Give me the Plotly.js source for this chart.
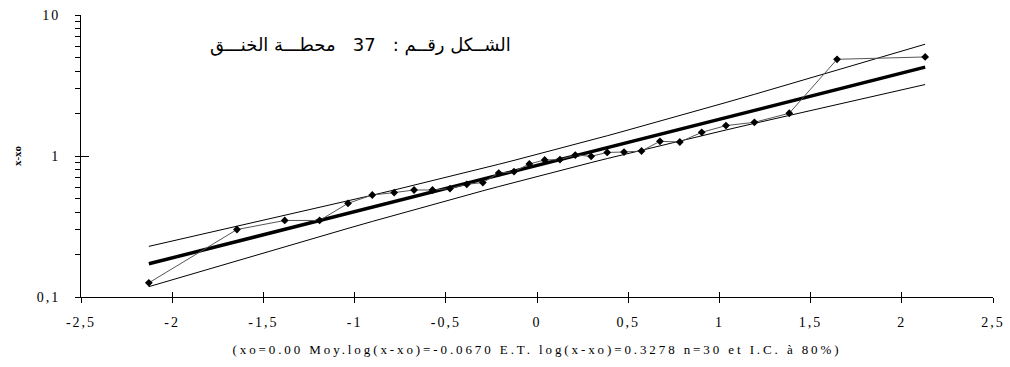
<!DOCTYPE html>
<html>
<head>
<meta charset="utf-8">
<script src="https://cdn.plot.ly/plotly-3.0.1.min.js"></script>
<style>html,body{margin:0;padding:0;background:#fff;}#chart{width:1010px;height:367px;}</style>
</head>
<body>
<div id="chart"></div>
<script>
// Normal quantiles (plotting positions) of the 30 observations
const zValues = [-2.128,-1.645,-1.383,-1.192,-1.036,-0.903,-0.783,-0.674,-0.573,-0.477,-0.385,-0.297,-0.210,-0.126,-0.042,
                  0.042, 0.126, 0.210, 0.297, 0.385, 0.477, 0.573, 0.674, 0.783, 0.903, 1.036, 1.192, 1.383, 1.645, 2.128];
// Observed x-xo values
const observed = [0.126,0.301,0.349,0.349,0.462,0.529,0.550,0.574,0.574,0.587,0.630,0.648,0.757,0.775,0.878,
                  0.937,0.943,1.016,0.995,1.060,1.067,1.085,1.271,1.257,1.472,1.643,1.734,2.010,4.850,5.040];
// Fitted log-normal line
const fitX = [-2.128, 2.128];
const fitY = [0.172, 4.27];
// 80% confidence limits
const upper = [0.2286,0.3163,0.3780,0.4310,0.4803,0.5272,0.5739,0.6204,0.6674,0.7158,0.7660,0.8176,0.8734,0.9309,0.9927,
               1.0598,1.1316,1.2094,1.2967,1.3918,1.5007,1.6233,1.7650,1.9332,2.1390,2.3950,2.7371,3.2279,4.0568,6.2044];
const lower = [0.1184,0.1811,0.2276,0.2684,0.3067,0.3434,0.3800,0.4161,0.4524,0.4895,0.5277,0.5665,0.6072,0.6490,0.6930,
               0.7399,0.7889,0.8411,0.8982,0.9590,1.0261,1.1006,1.1838,1.2796,1.3932,1.5293,1.7039,1.9430,2.3222,3.2131];
const xTickVals = [-2.5,-2,-1.5,-1,-0.5,0,0.5,1,1.5,2,2.5];
const xTickText = ['-2,5','-2','-1,5','-1','-0,5','0','0,5','1','1,5','2','2,5'];
const yTickVals = [0.1,0.2,0.3,0.4,0.5,0.6,0.7,0.8,0.9,1,2,3,4,5,6,7,8,9,10];
const yTickText = ['0,1','','','','','','','','','1','','','','','','','','','10'];
const yMajorVals = [0.1, 1, 10];
const chartTitle = 'الشــكل رقــم :\u00a0\u00a0 37 \u00a0\u00a0محطـــة الخنـــق';
const xTitle = '(xo=0.00 Moy.log(x-xo)=-0.0670 E.T. log(x-xo)=0.3278 n=30 et I.C. à 80%)';
const yTitle = 'x-xo';

const serif = '"Liberation Serif", "Times New Roman", serif';
const spaced = (s, px) => '<span style="letter-spacing:' + px + 'px">' + s + '</span>';

const traces = [
  {x: zValues, y: upper, type: 'scatter', mode: 'lines', line: {color: '#000', width: 1}, hoverinfo: 'skip'},
  {x: zValues, y: lower, type: 'scatter', mode: 'lines', line: {color: '#000', width: 1}, hoverinfo: 'skip'},
  {x: fitX, y: fitY, type: 'scatter', mode: 'lines', line: {color: '#000', width: 3.5}, hoverinfo: 'skip'},
  {x: zValues, y: observed, type: 'scatter', mode: 'lines+markers',
   line: {color: '#555', width: 1},
   marker: {symbol: 'diamond', size: 6, color: '#000'}, hoverinfo: 'skip'},
  // helper trace on overlay axes (inside halves of the major ticks)
  {x: [0], y: [1], xaxis: 'x2', yaxis: 'y2', type: 'scatter', mode: 'markers',
   marker: {size: 1, color: 'rgba(0,0,0,0)'}, hoverinfo: 'skip'}
];

const layout = {
  width: 1010, height: 367,
  margin: {l: 81, r: 17, t: 15, b: 70},
  paper_bgcolor: '#fff', plot_bgcolor: '#fff',
  showlegend: false,
  xaxis: {
    range: [-2.5, 2.5], tickmode: 'array', tickvals: xTickVals, ticktext: xTickText.map(t => spaced(t, 2)),
    showgrid: false, zeroline: false, showline: true, linecolor: '#000', linewidth: 1,
    ticks: 'outside', ticklen: 5, tickcolor: '#000', tickwidth: 1,
    ticklabelstandoff: 7,
    tickfont: {family: serif, size: 14, color: '#000'},
    title: {text: spaced(xTitle, 2.9), font: {family: serif, size: 13, color: '#000'}, standoff: 16},
    automargin: false
  },
  yaxis: {
    type: 'log', range: [-1, 1], tickmode: 'array', tickvals: yTickVals, ticktext: yTickText.map(t => t ? spaced(t, 2) : ''),
    showgrid: false, zeroline: false, showline: true, linecolor: '#000', linewidth: 1,
    ticks: 'outside', ticklen: 5, tickcolor: '#000', tickwidth: 1,
    ticklabelstandoff: 12,
    tickfont: {family: serif, size: 14, color: '#000'},
    title: {text: '<b>' + yTitle + '</b>', font: {family: serif, size: 11, color: '#000'}, standoff: 12},
    automargin: false
  },
  xaxis2: {
    overlaying: 'x', anchor: 'y', range: [-2.5, 2.5], tickmode: 'array', tickvals: xTickVals,
    showticklabels: false, ticks: 'inside', ticklen: 5, tickcolor: '#000', tickwidth: 1,
    showgrid: false, zeroline: false, showline: false, side: 'bottom'
  },
  yaxis2: {
    overlaying: 'y', anchor: 'x', type: 'log', range: [-1, 1], tickmode: 'array', tickvals: yMajorVals,
    showticklabels: false, ticks: 'inside', ticklen: 8, tickcolor: '#000', tickwidth: 1,
    showgrid: false, zeroline: false, showline: false, side: 'left'
  },
  annotations: [{
    text: chartTitle, xref: 'paper', yref: 'paper', x: 0.306, y: 0.893,
    xanchor: 'center', yanchor: 'middle', showarrow: false,
    font: {family: '"DejaVu Sans", "Liberation Sans", sans-serif', size: 18, color: '#000'}
  }]
};

Plotly.newPlot('chart', traces, layout, {staticPlot: true, displayModeBar: false});
</script>
</body>
</html>
